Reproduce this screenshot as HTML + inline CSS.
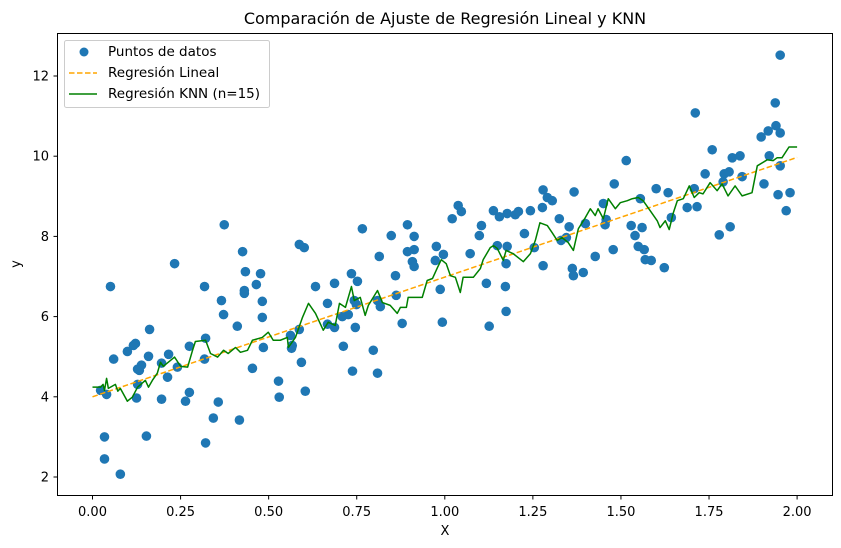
<!DOCTYPE html>
<html><head><meta charset="utf-8"><style>
body{margin:0;background:#fff;}
svg{display:block;font-family:"DejaVu Sans","Liberation Sans",sans-serif;}
</style></head><body>
<svg id="chart" width="841" height="548" xmlns="http://www.w3.org/2000/svg">
<rect width="841" height="548" fill="#fff"/>
<text x="445" y="24" font-size="16" text-anchor="middle">Comparación de Ajuste de Regresión Lineal y KNN</text>
<g id="plot"></g>
<rect x="57.5" y="33.5" width="775" height="462" fill="none" stroke="#000" stroke-width="1"/>
<g id="axes"></g>
<text x="445" y="535" font-size="13" text-anchor="middle">X</text>
<text x="20" y="264" font-size="13" text-anchor="middle" transform="rotate(-90 20 264)">y</text>
<g>
<rect x="64.5" y="40.5" width="205" height="67" rx="2" fill="#fff" fill-opacity="0.8" stroke="#ccc"/>
<circle cx="84" cy="52" r="4.5" fill="#1f77b4"/>
<text x="108" y="56" font-size="13.5">Puntos de datos</text>
<line x1="69" y1="73" x2="97" y2="73" stroke="orange" stroke-width="1.5" stroke-dasharray="5.5,2.5"/>
<text x="108" y="77" font-size="13.5">Regresión Lineal</text>
<line x1="69" y1="94" x2="97" y2="94" stroke="green" stroke-width="1.5"/>
<text x="108" y="98" font-size="13.5">Regresión KNN (n=15)</text>
</g>
</svg>
<script>
const ptX=[0.374,0.426,0.233,0.434,0.477,0.051,0.318,0.465,0.431,0.431,0.366,0.482,0.372,0.482,0.411,0.162,0.321,0.122,0.116,0.099,0.275,0.485,0.159,0.216,0.060,0.318,0.196,0.139,0.128,0.133,0.241,0.454,0.213,0.128,0.023,0.040,0.125,0.196,0.264,0.275,0.357,0.528,0.530,0.343,0.417,0.034,0.153,0.321,0.034,0.079,
1.038,1.047,1.021,0.766,0.894,1.104,0.848,0.913,1.098,0.587,0.601,0.976,0.894,0.913,0.814,0.996,1.072,0.908,0.913,0.973,0.735,0.860,0.752,0.687,0.633,1.118,0.987,0.862,0.667,0.743,0.749,0.817,0.809,0.726,0.709,0.667,0.687,0.746,0.879,0.993,1.126,0.587,0.562,0.567,0.565,0.712,0.797,0.593,0.738,0.809,0.604,
1.515,1.481,1.600,1.634,1.279,1.367,1.291,1.305,1.450,1.555,1.138,1.155,1.177,1.200,1.209,1.243,1.277,1.325,1.688,1.353,1.399,1.455,1.458,1.529,1.560,1.643,1.226,1.540,1.330,1.345,1.149,1.177,1.254,1.478,1.549,1.566,1.569,1.586,1.427,1.174,1.279,1.362,1.365,1.393,1.623,1.172,1.174,
1.952,1.938,1.711,1.918,1.940,1.952,1.898,1.759,1.816,1.838,1.921,1.739,1.793,1.807,1.844,1.952,1.790,1.708,1.906,1.946,1.980,1.716,1.969,1.810,1.779];
const ptY=[8.29,7.62,7.32,7.12,7.07,6.75,6.75,6.80,6.65,6.58,6.40,6.38,6.05,5.98,5.76,5.68,5.46,5.33,5.28,5.13,5.26,5.23,5.01,5.06,4.94,4.94,4.84,4.79,4.69,4.66,4.74,4.71,4.49,4.31,4.16,4.06,3.97,3.94,3.89,4.11,3.87,4.39,3.99,3.47,3.42,3.00,3.02,2.85,2.45,2.07,
8.77,8.62,8.44,8.19,8.29,8.27,8.02,8.00,8.02,7.80,7.72,7.75,7.62,7.67,7.50,7.55,7.57,7.37,7.25,7.40,7.07,7.02,6.88,6.83,6.75,6.83,6.68,6.53,6.33,6.40,6.30,6.25,6.40,6.05,6.00,5.81,5.73,5.73,5.83,5.86,5.76,5.68,5.53,5.28,5.21,5.26,5.16,4.86,4.64,4.59,4.14,
9.89,9.31,9.19,9.09,9.16,9.11,8.97,8.89,8.82,8.94,8.64,8.49,8.57,8.54,8.62,8.64,8.72,8.44,8.72,8.24,8.32,8.29,8.42,8.27,8.22,8.47,8.07,8.02,7.90,7.97,7.77,7.75,7.72,7.67,7.75,7.67,7.42,7.40,7.50,7.32,7.27,7.20,7.02,7.10,7.22,6.75,6.13,
12.52,11.33,11.08,10.63,10.76,10.58,10.48,10.16,9.96,10.01,10.01,9.56,9.56,9.61,9.49,9.76,9.36,9.19,9.31,9.04,9.09,8.74,8.64,8.24,8.04];
const knnX=[0,0.023,0.030,0.034,0.040,0.045,0.065,0.072,0.079,0.099,0.113,0.128,0.150,0.159,0.170,0.184,0.193,0.201,0.233,0.250,0.270,0.284,0.292,0.321,0.335,0.355,0.372,0.385,0.406,0.420,0.440,0.454,0.482,0.499,0.513,0.533,0.553,0.556,0.576,0.596,0.613,0.633,0.655,0.669,0.689,0.701,0.718,0.735,0.743,0.760,0.774,0.783,0.809,0.823,0.845,0.865,0.874,0.891,0.896,0.922,0.936,0.950,0.965,0.979,0.990,1.004,1.016,1.030,1.044,1.052,1.081,1.101,1.109,1.129,1.138,1.149,1.166,1.174,1.194,1.223,1.243,1.257,1.270,1.291,1.305,1.319,1.333,1.350,1.365,1.379,1.399,1.413,1.427,1.435,1.450,1.464,1.484,1.498,1.518,1.532,1.549,1.563,1.583,1.603,1.611,1.626,1.637,1.648,1.660,1.677,1.694,1.708,1.722,1.733,1.753,1.773,1.787,1.804,1.824,1.844,1.872,1.887,1.915,1.932,1.943,1.957,1.977,2.000];
const knnY=[4.24,4.24,4.31,4.16,4.46,4.21,4.31,4.14,4.21,3.89,3.99,4.24,4.41,4.24,4.41,4.59,4.86,4.76,4.99,4.76,4.74,5.16,5.38,5.41,5.08,4.99,5.16,5.08,5.23,5.11,5.16,5.41,5.48,5.61,5.41,5.41,5.48,5.23,5.48,5.98,6.33,6.08,5.66,5.86,5.78,6.33,6.23,6.75,6.40,6.48,6.03,6.28,6.65,6.35,6.28,6.08,6.23,6.23,6.48,6.48,6.48,6.90,6.95,7.22,7.42,7.32,7.02,6.98,6.60,6.98,6.98,7.20,7.42,7.72,7.77,7.70,7.40,7.65,7.57,7.37,7.57,7.90,8.34,8.27,8.09,7.90,7.97,7.85,7.65,8.19,8.47,8.69,8.52,8.69,8.44,8.94,8.69,8.84,8.89,8.94,8.97,8.89,8.64,8.39,8.22,8.39,8.17,8.57,8.89,8.94,9.26,8.97,9.09,9.06,9.34,9.14,9.31,9.01,9.26,9.01,9.09,9.76,9.91,9.89,9.96,9.96,10.23,10.23];
const linX=[0,2];
const linY=[4.0,9.97];
const xTicks=[0,0.25,0.5,0.75,1.0,1.25,1.5,1.75,2.0];
const xTickLabels=["0.00","0.25","0.50","0.75","1.00","1.25","1.50","1.75","2.00"];
const yTicks=[2,4,6,8,10,12];

const NS="http://www.w3.org/2000/svg";
function sx(v){return 92.5+v*352.3;}
function sy(v){return 477-(v-2)*40.1;}
function mk(t,a,p){const e=document.createElementNS(NS,t);for(const k in a)e.setAttribute(k,a[k]);p.appendChild(e);return e;}
const plot=document.getElementById('plot'),axes=document.getElementById('axes');
for(let i=0;i<ptX.length;i++){
 const c=mk('circle',{cx:sx(ptX[i]),cy:sy(ptY[i]),r:4.8,fill:'#1f77b4'},plot);
 
 
}
const ll=mk('line',{x1:sx(linX[0]),y1:sy(linY[0]),x2:sx(linX[1]),y2:sy(linY[1]),stroke:'orange','stroke-width':1.5,'stroke-dasharray':'5.5,2.5'},plot);


const kp=mk('polyline',{points:knnX.map((x,i)=>sx(x)+','+sy(knnY[i])).join(' '),fill:'none',stroke:'green','stroke-width':1.5,'stroke-linejoin':'round'},plot);


xTicks.forEach((v,i)=>{
 const x=sx(v);
 mk('line',{x1:x,y1:495.5,x2:x,y2:499.5,stroke:'#000'},axes);
 const t=mk('text',{x:x,y:516,'font-size':13,'text-anchor':'middle'},axes);
 t.textContent=xTickLabels[i];
 
 
});
yTicks.forEach(v=>{
 const y=sy(v);
 mk('line',{x1:53.5,y1:y,x2:57.5,y2:y,stroke:'#000'},axes);
 const t=mk('text',{x:49,y:y+4.5,'font-size':13,'text-anchor':'end'},axes);
 t.textContent=v;
 
 
});
</script>
</body></html>
